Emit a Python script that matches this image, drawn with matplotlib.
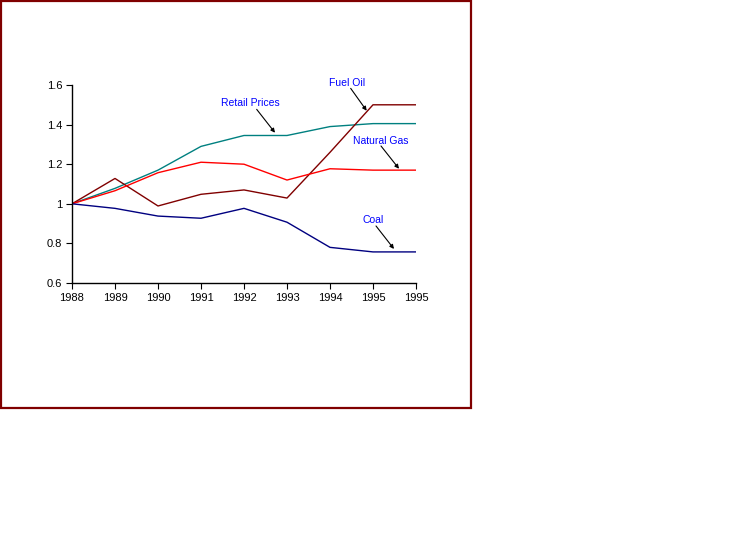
import matplotlib
matplotlib.use('Agg')
import matplotlib.pyplot as plt
from matplotlib.patches import Rectangle

# data (index relative to 1988)
years = ['1988', '1989', '1990', '1991', '1992', '1993', '1994', '1995', '1995']
retail_prices = [1.00, 1.078, 1.17, 1.29, 1.345, 1.345, 1.39, 1.405, 1.405]
fuel_oil = [1.00, 1.128, 0.989, 1.048, 1.07, 1.029, 1.26, 1.50, 1.50]
natural_gas = [1.00, 1.066, 1.157, 1.21, 1.20, 1.12, 1.177, 1.17, 1.17]
coal = [1.00, 0.977, 0.938, 0.927, 0.977, 0.907, 0.78, 0.757, 0.757]

W, H = 754, 559
fig = plt.figure(figsize=(W / 100, H / 100), dpi=100)
plt.rcParams['font.family'] = ['Liberation Sans', 'DejaVu Sans']

# dark red frame round the chart area
fig.patches.append(Rectangle((1 / W, 1 - 408 / H), 470 / W, 407 / H,
                             transform=fig.transFigure, fill=False,
                             edgecolor='#800000', lw=1.6))

ax = fig.add_axes([72 / W, 1 - 283 / H, 344 / W, 198 / H])
x = list(range(len(years)))
ax.plot(x, retail_prices, color='#008080', lw=1.0)
ax.plot(x, fuel_oil, color='#800000', lw=1.0)
ax.plot(x, natural_gas, color='#FF0000', lw=1.0)
ax.plot(x, coal, color='#000080', lw=1.0)

ax.set_xlim(0, len(years) - 1)
ax.set_ylim(0.6, 1.6)
ax.set_xticks(x)
ax.set_xticklabels(years)
ax.set_yticks([0.6, 0.8, 1.0, 1.2, 1.4, 1.6])
ax.set_yticklabels(['0.6', '0.8', '1', '1.2', '1.4', '1.6'])
ax.tick_params(direction='out', length=4, width=0.8, labelsize=8, pad=3)
for s in ['top', 'right']:
    ax.spines[s].set_visible(False)
for s in ['left', 'bottom']:
    ax.spines[s].set_linewidth(1.0)

# labels with arrows
labels = [
    ('Retail Prices', (4.156, 1.508), (4.295, 1.477), (4.721, 1.359)),
    ('Fuel Oil', (6.388, 1.609), (6.481, 1.583), (6.853, 1.470)),
    ('Natural Gas', (7.186, 1.317), (7.186, 1.292), (7.605, 1.177)),
    ('Coal', (7.0, 0.918), (7.07, 0.888), (7.488, 0.772)),
]
for txt, pos, start, tip in labels:
    ax.text(pos[0], pos[1], txt, color='#0000FF', fontsize=7.5,
            ha='center', va='center', clip_on=False)
    ax.annotate('', xy=tip, xytext=start, annotation_clip=False,
                arrowprops=dict(arrowstyle='-|>', color='black', lw=0.8,
                                mutation_scale=6, shrinkA=0, shrinkB=0))

fig.savefig('out.png', dpi=100)
